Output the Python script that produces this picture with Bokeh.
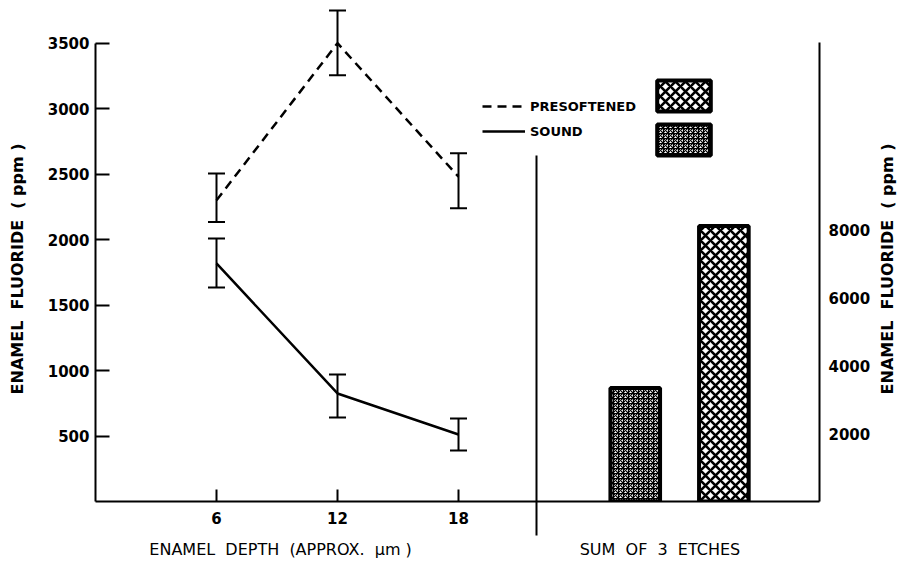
from bokeh.plotting import figure
from bokeh.layouts import row
from bokeh.models import (ColumnDataSource, Range1d, LinearAxis, FixedTicker, Whisker,
                          TeeHead, Legend, LegendItem)
from bokeh.embed import file_html
from bokeh.resources import INLINE

# ---- data ----
depth = [6, 12, 18]
depth_ticks = [6, 12, 18]
presoft_mean = [2300, 3500, 2480]
presoft_low = [2135, 3255, 2240]
presoft_high = [2505, 3750, 2660]
sound_mean = [1818, 825, 512]
sound_low = [1634, 641, 390]
sound_high = [2009, 970, 634]
left_ticks = [500, 1000, 1500, 2000, 2500, 3000, 3500]

etch_names = ["SOUND", "PRESOFTENED"]
etch_sum = [3340, 8100]
right_ticks = [2000, 4000, 6000, 8000]

series_names = ["PRESOFTENED", "SOUND"]
y_title = "ENAMEL  FLUORIDE  ( ppm )"
x_title_left = "ENAMEL  DEPTH  (APPROX.  \u03bcm )"
x_title_right = "SUM  OF  3  ETCHES"

FONT = "DejaVu Sans"
NB = "\u00a0"


def nb(s):
    return s.replace(" ", NB)


# ---- layout constants ----
DIVIDER_X = 21.85

p = figure(width=873, height=564, output_backend="svg", toolbar_location=None,
           x_range=Range1d(0, 35.9), y_range=Range1d(0, 3765),
           min_border_left=95, min_border_right=51, min_border_top=8, min_border_bottom=63)
p.title.visible = False
p.outline_line_color = None
p.grid.visible = False
p.background_fill_color = "white"
p.border_fill_color = "white"

p.extra_x_ranges = {"etch": Range1d(-5.09, 3.079)}
p.extra_y_ranges = {"sum": Range1d(0, 14500)}

# left axis
ya = p.yaxis[0]
ya.ticker = FixedTicker(ticks=left_ticks)
ya.bounds = (0, 3500)
ya.major_tick_in = 14
ya.major_tick_out = 0
ya.minor_tick_line_color = None
ya.axis_line_width = 2
ya.major_tick_line_width = 2
ya.major_label_standoff = 6
ya.major_label_text_font = FONT
ya.major_label_text_font_style = "bold"
ya.major_label_text_font_size = "15px"
ya.major_label_text_color = "black"
ya.axis_label = nb(y_title) + NB * 5
ya.axis_label_standoff = 18
ya.axis_label_text_font = FONT
ya.axis_label_text_font_style = "bold"
ya.axis_label_text_font_size = "16px"
ya.axis_label_text_color = "black"

# bottom axis
xa = p.xaxis[0]
xa.ticker = FixedTicker(ticks=depth_ticks, minor_ticks=[DIVIDER_X])
xa.major_tick_in = 12
xa.major_tick_out = 0
xa.major_tick_line_width = 2
xa.minor_tick_in = 346
xa.minor_tick_out = 34
xa.minor_tick_line_width = 2
xa.minor_tick_line_color = "black"
xa.axis_line_width = 2
xa.major_label_standoff = -24
xa.major_label_text_font = FONT
xa.major_label_text_font_style = "bold"
xa.major_label_text_font_size = "15px"
xa.major_label_text_color = "black"
xa.axis_label = nb(x_title_left) + NB * 33 + nb(x_title_right) + NB * 5
xa.axis_label_standoff = 13
xa.axis_label_text_font = FONT
xa.axis_label_text_font_style = "normal"
xa.axis_label_text_font_size = "16px"
xa.axis_label_text_color = "black"

# right axis
ra = LinearAxis(y_range_name="sum", ticker=FixedTicker(ticks=right_ticks), bounds=(0, 13500))
ra.major_tick_in = 0
ra.major_tick_out = 0
ra.minor_tick_line_color = None
ra.axis_line_width = 2
ra.major_label_standoff = 9
ra.major_label_text_font = FONT
ra.major_label_text_font_style = "bold"
ra.major_label_text_font_size = "15px"
ra.major_label_text_color = "black"
p.add_layout(ra, "right")

# lines
src_p = ColumnDataSource(dict(x=depth, y=presoft_mean, lo=presoft_low, hi=presoft_high))
src_s = ColumnDataSource(dict(x=depth, y=sound_mean, lo=sound_low, hi=sound_high))
lp = p.line("x", "y", source=src_p, line_color="black", line_width=2.5, line_dash="9 6")
ls = p.line("x", "y", source=src_s, line_color="black", line_width=2.5)

for src in (src_p, src_s):
    w = Whisker(base="x", lower="lo", upper="hi", source=src, line_width=2, line_color="black",
                upper_head=TeeHead(size=17, line_width=2, line_color="black"),
                lower_head=TeeHead(size=17, line_width=2, line_color="black"))
    p.add_layout(w)

# bars
src_b = ColumnDataSource(dict(x=[i + 1 for i in range(len(etch_names))], top=etch_sum,
                              name=etch_names, hatch=["*", "x"], scale=[5, 10], weight=[1.2, 2.6]))
bars = p.vbar(x="x", top="top", width=0.56, bottom=0, source=src_b,
              x_range_name="etch", y_range_name="sum",
              fill_color="white", line_color="black", line_width=4,
              hatch_pattern="hatch", hatch_color="black", hatch_scale="scale", hatch_weight="weight")

# legends
leg1 = Legend(items=[LegendItem(label=series_names[0], renderers=[lp]),
                     LegendItem(label=series_names[1], renderers=[ls])],
              location=(387, 360), orientation="vertical",
              glyph_width=43, glyph_height=20, label_height=20, spacing=5, padding=0, margin=0,
              label_standoff=5, background_fill_alpha=0, border_line_color=None,
              label_text_font=FONT, label_text_font_style="bold", label_text_font_size="13px",
              label_text_color="black")
p.add_layout(leg1)

leg2 = Legend(items=[LegendItem(label=" ", renderers=[bars], index=1),
                     LegendItem(label=" ", renderers=[bars], index=0)],
              location=(555, 342), orientation="vertical",
              glyph_width=67, glyph_height=39, label_height=20, label_width=0, spacing=5,
              padding=0, margin=0, label_standoff=0, background_fill_alpha=0,
              border_line_color=None, label_text_font_size="2px")
p.add_layout(leg2)

# narrow companion figure carrying the right-hand title (reads bottom to top)
p2 = figure(width=26, height=564, output_backend="svg", toolbar_location=None,
            x_range=Range1d(0, 1), y_range=Range1d(0, 1), x_axis_location=None,
            min_border_left=24, min_border_right=0, min_border_top=8, min_border_bottom=63)
p2.title.visible = False
p2.outline_line_color = None
p2.grid.visible = False
p2.background_fill_color = "white"
p2.border_fill_color = "white"
a2 = p2.yaxis[0]
a2.ticker = FixedTicker(ticks=[])
a2.axis_line_color = None
a2.major_tick_line_color = None
a2.minor_tick_line_color = None
a2.major_tick_out = 0
a2.major_tick_in = 0
a2.major_label_standoff = 0
a2.axis_label = nb(y_title) + NB * 5
a2.axis_label_standoff = 1
a2.axis_label_text_font = FONT
a2.axis_label_text_font_style = "bold"
a2.axis_label_text_font_size = "16px"
a2.axis_label_text_color = "black"

layout = row(p, p2, spacing=0)
open("out.html", "w").write(file_html(layout, INLINE))
